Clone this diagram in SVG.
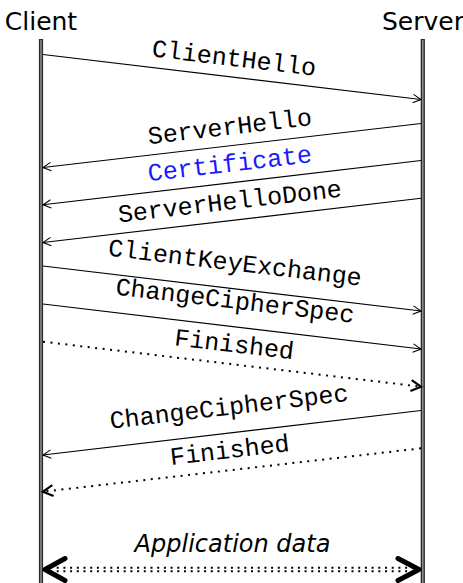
<svg xmlns="http://www.w3.org/2000/svg" width="463" height="583" viewBox="0 0 463 583">
<style>
.head{font-family:"DejaVu Sans","Liberation Sans",sans-serif;font-size:25px;fill:#000;text-anchor:middle}
.msg{font-family:"Liberation Mono","DejaVu Sans Mono",monospace;font-size:25px;fill:#000;text-anchor:middle}
.blue{fill:#1a1aff}
.app{font-family:"DejaVu Sans","Liberation Sans",sans-serif;font-style:italic;font-size:24px;fill:#000;text-anchor:middle}
.solid{stroke:#000;stroke-width:1.1;fill:none;marker-end:url(#thin)}
.dot{stroke:#000;stroke-width:2;fill:none;stroke-dasharray:2 5.5;marker-end:url(#bold)}
.life-o{stroke:#2a2a2a;stroke-width:4.2}
.life-i{stroke:#8a8a8a;stroke-width:1.6}
</style>
<defs>
<marker id="thin" markerUnits="userSpaceOnUse" viewBox="-12 -8 14 16" markerWidth="14" markerHeight="16" refX="0" refY="0" orient="auto">
<path d="M-8,-4.2 L0,0 L-8,4.2" fill="none" stroke="#000" stroke-width="1.1" stroke-dasharray="none"/>
</marker>
<marker id="bold" markerUnits="userSpaceOnUse" viewBox="-14 -9 16 18" markerWidth="16" markerHeight="18" refX="0" refY="0" orient="auto">
<path d="M-10,-5.5 L0,0 L-10,5.5" fill="none" stroke="#000" stroke-width="2.2" stroke-dasharray="none"/>
</marker>
</defs>

<g id="client">
<line class="life-o" x1="41" y1="39" x2="41" y2="583"/>
<line class="life-i" x1="41" y1="40" x2="41" y2="583"/>
<text class="head" x="41" y="30">Client</text>
</g>
<g id="server">
<line class="life-o" x1="422.8" y1="39" x2="422.8" y2="583"/>
<line class="life-i" x1="422.8" y1="40" x2="422.8" y2="583"/>
<text class="head" x="423" y="30">Server</text>
</g>

<g id="connectors">
<line class="solid" x1="43" y1="54.5" x2="421" y2="99.5"/>
<line class="solid" x1="421" y1="123.5" x2="43" y2="167.5"/>
<line class="solid" x1="421" y1="160.5" x2="43" y2="204.8"/>
<line class="solid" x1="421" y1="198.3" x2="43" y2="242.5"/>
<line class="solid" x1="43" y1="266" x2="421" y2="311"/>
<line class="solid" x1="43" y1="304" x2="421" y2="349"/>
<line class="dot" x1="43" y1="341.7" x2="421" y2="386.7"/>
<line class="solid" x1="421" y1="410.5" x2="43" y2="455"/>
<line class="dot" x1="421" y1="448.3" x2="43" y2="491.7"/>
<g id="appdata">
<line x1="50" y1="567.7" x2="414" y2="567.7" stroke="#000" stroke-width="2" stroke-dasharray="2 4.7"/>
<line x1="50" y1="571.3" x2="414" y2="571.3" stroke="#000" stroke-width="2" stroke-dasharray="2 4.7"/>
<path d="M65,558.5 L45,569.5 L65,580.5" fill="none" stroke="#000" stroke-width="5" stroke-linecap="round" stroke-linejoin="round"/>
<path d="M398,558.5 L419,569.5 L398,580.5" fill="none" stroke="#000" stroke-width="5" stroke-linecap="round" stroke-linejoin="round"/>
</g>
</g>

<g id="labels">
<text class="msg" transform="translate(232,77) rotate(6.77)" y="-11">ClientHello</text>
<text class="msg" transform="translate(232,145.5) rotate(-6.67)" y="-11">ServerHello</text>
<text class="msg blue" transform="translate(232,182.6) rotate(-6.67)" y="-11">Certificate</text>
<text class="msg" transform="translate(232,220.4) rotate(-6.67)" y="-11">ServerHelloDone</text>
<text class="msg" transform="translate(232,288.5) rotate(6.77)" y="-18">ClientKeyExchange</text>
<text class="msg" transform="translate(232,326.5) rotate(6.77)" y="-18">ChangeCipherSpec</text>
<text class="msg" transform="translate(232,364.2) rotate(6.77)" y="-12">Finished</text>
<text class="msg" transform="translate(232,432.7) rotate(-6.67)" y="-18">ChangeCipherSpec</text>
<text class="msg" transform="translate(232,470) rotate(-6.67)" y="-12">Finished</text>
<text class="app" x="232.5" y="552">Application data</text>
</g>
</svg>
